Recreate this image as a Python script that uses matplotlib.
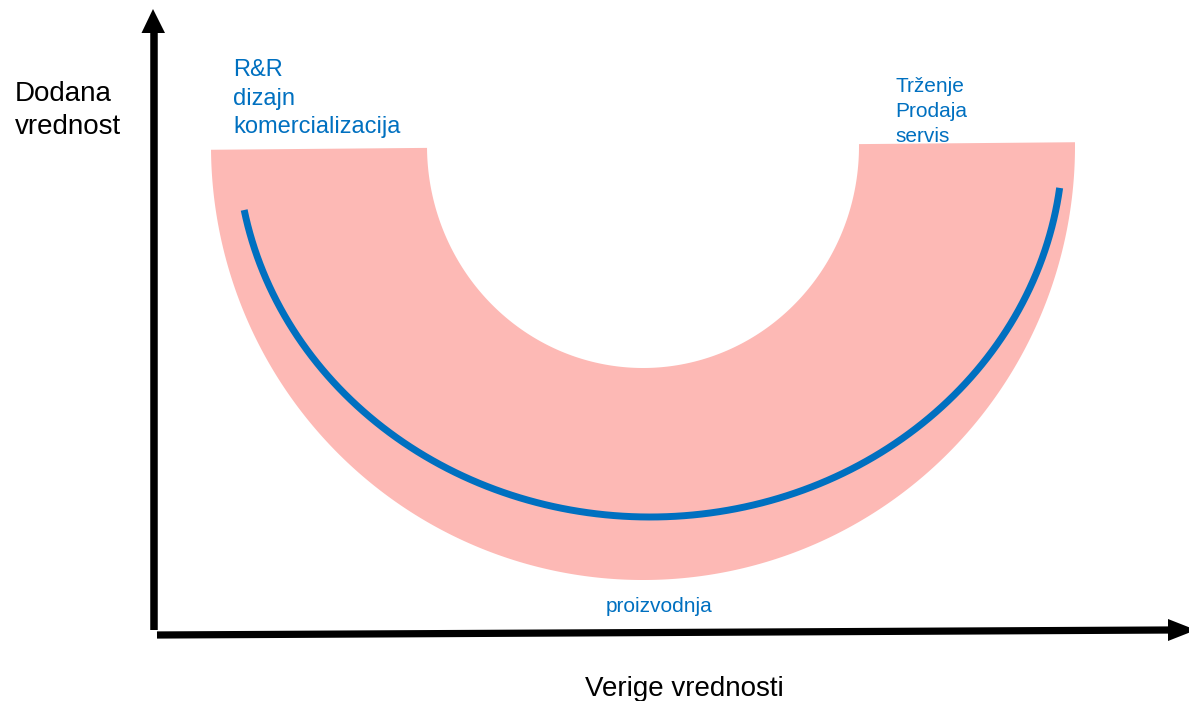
import numpy as np
import matplotlib
matplotlib.use("Agg")
import matplotlib.pyplot as plt

plt.rcParams["font.family"] = ["Liberation Sans", "DejaVu Sans"]

W, H = 1189, 701
BLUE = "#0070C0"
PINK = "#FDB9B5"

# labels
LEFT_LABEL = ["R&R", "dizajn", "komercializacija"]
RIGHT_LABEL = ["Trženje", "Prodaja", "servis"]
BOTTOM_LABEL = "proizvodnja"
Y_LABEL = ["Dodana", "vrednost"]
X_LABEL = "Verige vrednosti"

# smile band (block arc): centre, outer / inner semi-axes, tilt in degrees
BAND_CENTER = (643, 146)
BAND_OUTER = (432, 434)
BAND_INNER = (216, 222)
BAND_TILT = 0.5

# value curve: centre, semi-axes, start / end angle (deg, 0 = right end)
CURVE_CENTER = (650, 140)
CURVE_AXES = (413, 377)
CURVE_SPAN = (7.3, 169.3)


def ellipse_pts(center, axes, t0, t1, tilt=0.0, n=400):
    t = np.radians(np.linspace(t0, t1, n))
    x = axes[0] * np.cos(t)
    y = axes[1] * np.sin(t)          # y grows downward (pixel coords)
    r = np.radians(tilt)
    xr = x * np.cos(r) + y * np.sin(r)
    yr = -x * np.sin(r) + y * np.cos(r)
    return center[0] + xr, center[1] + yr


fig = plt.figure(figsize=(W / 100, H / 100), dpi=100)
ax = fig.add_axes([0, 0, 1, 1])
ax.set_xlim(0, W)
ax.set_ylim(H, 0)
ax.axis("off")

# pink band
ox, oy = ellipse_pts(BAND_CENTER, BAND_OUTER, 0, 180, BAND_TILT)
ix, iy = ellipse_pts(BAND_CENTER, BAND_INNER, 180, 0, BAND_TILT)
ax.fill(np.concatenate([ox, ix]), np.concatenate([oy, iy]),
        color=PINK, lw=0, zorder=1)

# blue curve
cx, cy = ellipse_pts(CURVE_CENTER, CURVE_AXES, CURVE_SPAN[0], CURVE_SPAN[1])
ax.plot(cx, cy, color=BLUE, lw=5.0, solid_capstyle="butt", zorder=2)

# axes arrows
ax.plot([153.5, 153.5], [630, 30], color="black", lw=5.4,
        solid_capstyle="butt", zorder=3)
ax.fill([153, 141.5, 165], [9, 33, 33], color="black", lw=0, zorder=3)
ax.plot([157, 1170], [635, 630], color="black", lw=5.2,
        solid_capstyle="butt", zorder=3)
ax.fill([1168, 1168, 1196], [619, 641, 630], color="black", lw=0, zorder=3)

# labels
for txt, yb in zip(LEFT_LABEL, [76, 105, 133]):
    ax.text(233, yb, txt, color=BLUE, fontsize=17, va="baseline",
            ha="left", zorder=4)
for txt, yb in zip(RIGHT_LABEL, [92, 117, 142]):
    ax.text(895, yb, txt, color=BLUE, fontsize=15, va="baseline",
            ha="left", zorder=4)
ax.text(606, 612, BOTTOM_LABEL, color=BLUE, fontsize=15, va="baseline",
        ha="left", zorder=4)
for txt, yb in zip(Y_LABEL, [101, 134]):
    ax.text(15, yb, txt, color="black", fontsize=20, va="baseline",
            ha="left", zorder=4)
ax.text(585, 696, X_LABEL, color="black", fontsize=20, va="baseline",
        ha="left", zorder=4)

fig.savefig("out.png", dpi=100)
